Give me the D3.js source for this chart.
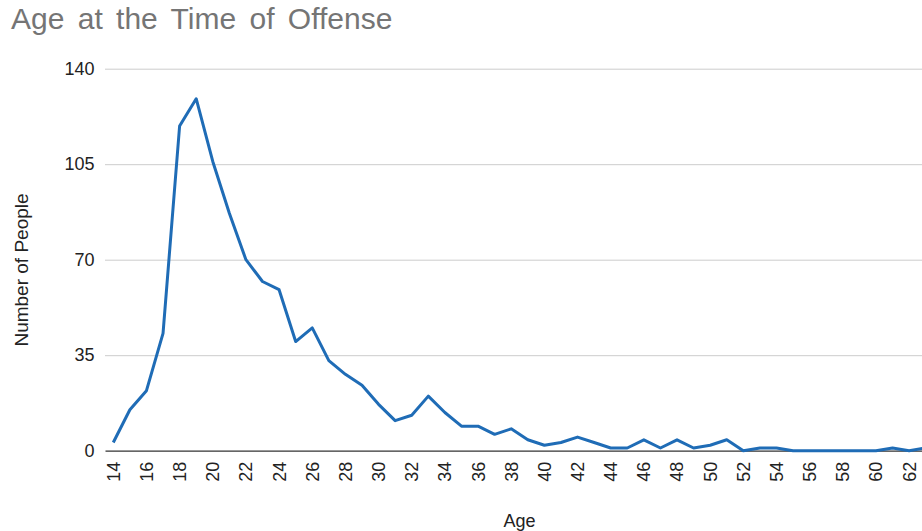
<!DOCTYPE html>
<html>
<head>
<meta charset="utf-8">
<script src="https://cdn.jsdelivr.net/npm/d3@7"></script>
<style>
  html, body { margin: 0; padding: 0; background: #fff; overflow: hidden; }
  text { font-family: Arial, "Liberation Sans", sans-serif; }
</style>
</head>
<body>
<svg id="chart" width="922" height="531"></svg>
<script>
const ages = [14,15,16,17,18,19,20,21,22,23,24,25,26,27,28,29,30,31,32,33,34,35,36,37,38,
  39,40,41,42,43,44,45,46,47,48,49,50,51,52,53,54,55,56,57,58,59,60,61,62,63];
const counts = [3,15,22,43,119,129,106,87,70,62,59,40,45,33,28,24,17,11,13,20,14,9,9,6,8,
  4,2,3,5,3,1,1,4,1,4,1,2,4,0,1,1,0,0,0,0,0,0,1,0,1];
const yTicks = [0,35,70,105,140];
const xTicks = [14,16,18,20,22,24,26,28,30,32,34,36,38,40,42,44,46,48,50,52,54,56,58,60,62];
const titleText = "Age at the Time of Offense";
const xTitle = "Age";
const yTitle = "Number of People";

const svg = d3.select("#chart");
const mLeft = 105, mRight = 934, mTop = 68.7, mBottom = 450.7;

const x = d3.scaleBand().domain(ages).range([mLeft, mRight]);
const xc = a => x(a) + x.bandwidth() / 2;
const y = d3.scaleLinear().domain([0, 140]).range([mBottom, mTop]);

// title
svg.append("text")
  .attr("x", 11).attr("y", 29)
  .attr("font-size", 30).attr("fill", "#757575")
  .attr("word-spacing", 5)
  .text(titleText);

// gridlines
const yAxis = d3.axisLeft(y).tickValues(yTicks).tickSize(-(mRight - mLeft)).tickPadding(10);
const gy = svg.append("g").attr("transform", `translate(${mLeft},0)`).call(yAxis);
gy.select(".domain").remove();
gy.selectAll(".tick line").attr("stroke", "#cccccc").attr("stroke-width", 1);
gy.selectAll(".tick line").filter(d => d === 0).remove();
gy.selectAll(".tick text").attr("font-size", 18).attr("fill", "#222").attr("x", -10.5)
  .attr("font-family", "Arial, 'Liberation Sans', sans-serif");

// x axis
const xAxis = d3.axisBottom(x).tickValues(xTicks).tickSize(0).tickPadding(0);
const gx = svg.append("g").attr("transform", `translate(0,${mBottom})`).call(xAxis);
gx.select(".domain").attr("stroke", "#333").attr("stroke-width", 1.3);
gx.selectAll(".tick text")
  .attr("font-size", 18).attr("fill", "#222")
  .attr("font-family", "Arial, 'Liberation Sans', sans-serif")
  .attr("text-anchor", "end")
  .attr("transform", "translate(0,11) rotate(-90)")
  .attr("x", 0).attr("y", 0).attr("dy", "0.36em");

// line
const line = d3.line().x((d, i) => xc(ages[i])).y(d => y(d));
svg.append("path")
  .datum(counts)
  .attr("fill", "none")
  .attr("stroke", "#1f6cb6")
  .attr("stroke-width", 3)
  .attr("stroke-linejoin", "round")
  .attr("d", line);

// axis titles
svg.append("text")
  .attr("x", 519.5).attr("y", 527)
  .attr("text-anchor", "middle").attr("font-size", 18).attr("fill", "#222")
  .text(xTitle);

svg.append("text")
  .attr("transform", "translate(28,270) rotate(-90)")
  .attr("text-anchor", "middle").attr("font-size", 19).attr("fill", "#222")
  .text(yTitle);
</script>
</body>
</html>
